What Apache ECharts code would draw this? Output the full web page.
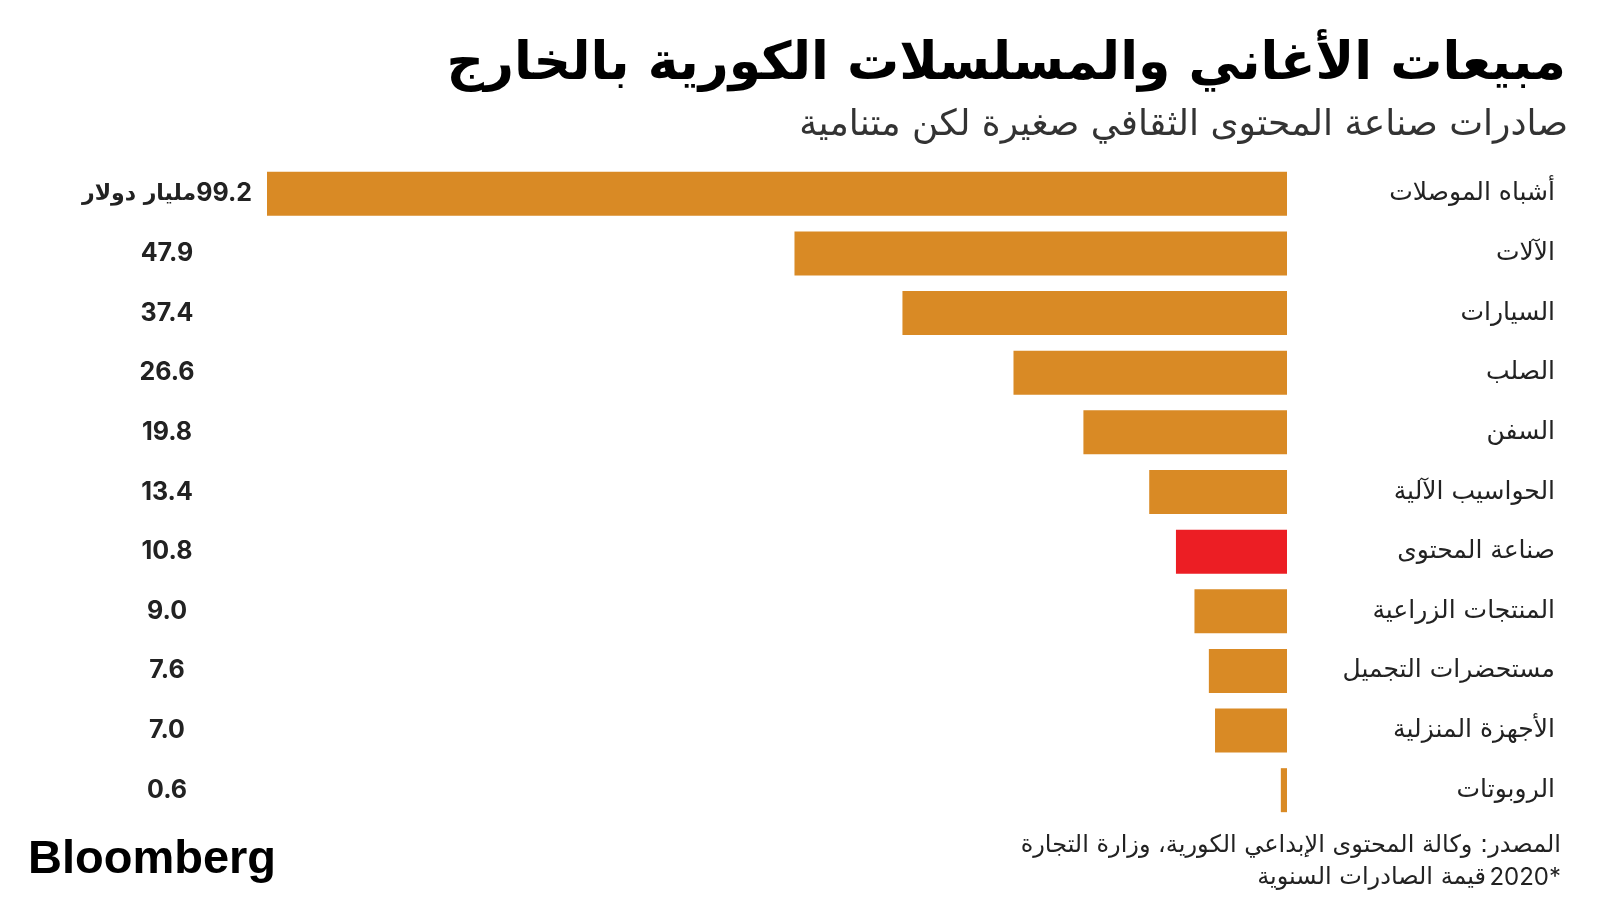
<!DOCTYPE html>
<html>
<head>
<meta charset="utf-8">
<script src="https://cdn.jsdelivr.net/npm/echarts@6/dist/echarts.min.js"></script>
<style>
html,body{margin:0;padding:0;background:#fff;}
#main{width:1600px;height:900px;}
</style>
</head>
<body>
<div id="main"></div>
<script>
const categories = ['أشباه الموصلات','الآلات','السيارات','الصلب','السفن','الحواسيب الآلية','صناعة المحتوى','المنتجات الزراعية','مستحضرات التجميل','الأجهزة المنزلية','الروبوتات'];
const values = [99.2, 47.9, 37.4, 26.6, 19.8, 13.4, 10.8, 9.0, 7.6, 7.0, 0.6];
const highlightCategory = 'صناعة المحتوى';
const unitLabel = 'مليار دولار';
const titleText = 'مبيعات الأغاني والمسلسلات الكورية بالخارج';
const subtitleText = 'صادرات صناعة المحتوى الثقافي صغيرة لكن متنامية';
const sourceText = 'المصدر: وكالة المحتوى الإبداعي الكورية، وزارة التجارة';
const noteText = 'قيمة الصادرات السنوية';
const noteYear = '2020';

const ORANGE = '#D98A25';
const RED = '#EC1E24';
const AR_FONT = '"DejaVu Sans", "Noto Sans", sans-serif';
const NUM_FONT = 'Inter, Roboto, "Liberation Sans", sans-serif';

const chart = echarts.init(document.getElementById('main'), null, {renderer:'canvas'});
const option = {
  backgroundColor: '#ffffff',
  animation: false,
  grid: {left: 267, right: 313, top: 164, bottom: 80, containLabel: false},
  xAxis: {
    type: 'value', inverse: true, min: 0, max: 99.2,
    show: false
  },
  yAxis: [{
    type: 'category', data: categories, inverse: true, position: 'right',
    axisLine: {show: false}, axisTick: {show: false}, splitLine: {show: false},
    axisLabel: {
      align: 'right', margin: 268, fontSize: 25, color: '#222',
      fontFamily: AR_FONT
    }
  }, {
    type: 'category', data: categories, inverse: true, position: 'left',
    axisLine: {show: false}, axisTick: {show: false}, splitLine: {show: false},
    axisLabel: {
      align: 'center', margin: 100, fontSize: 25, color: '#222',
      fontFamily: NUM_FONT, fontWeight: 'bold',
      formatter: function (v, i) {
        const n = values[i].toFixed(1);
        if (i === 0) return '{u|' + unitLabel + '}{n|' + n + '}';
        return n;
      },
      rich: {
        u: {fontSize: 22, fontWeight: 'bold', fontFamily: AR_FONT, color: '#222'},
        n: {fontSize: 25, fontWeight: 'bold', fontFamily: NUM_FONT, color: '#222'}
      }
    }
  }],
  series: [{
    type: 'bar', yAxisIndex: 0, barWidth: 44,
    data: values.map((v, i) => ({
      value: v,
      itemStyle: {color: categories[i] === highlightCategory ? RED : ORANGE}
    })),
    label: {show: false}
  }],
  graphic: [
    {type: 'text', right: 34, top: 39, style: {text: titleText, font: 'bold 52px ' + AR_FONT, fill: '#000', align: 'right'}},
    {type: 'text', right: 32, top: 108, style: {text: subtitleText, font: '36px ' + AR_FONT, fill: '#333', align: 'right'}},
    {type: 'text', left: 28, top: 837, style: {text: 'Bloomberg', font: 'bold 47px "Liberation Sans", Arial, sans-serif', fill: '#000'}},
    {type: 'text', right: 39, top: 834, style: {text: sourceText, font: '24px ' + AR_FONT, fill: '#222', align: 'right'}},
    {type: 'text', right: 39, top: 866, style: {
      text: '{a|' + noteText + '} {b|' + noteYear + '}{c|*}',
      align: 'right',
      rich: {
        a: {font: '24px ' + AR_FONT, fill: '#222'},
        b: {font: '24px ' + NUM_FONT, fill: '#222'},
        c: {font: '24px ' + NUM_FONT, fill: '#222', verticalAlign: 'top'}
      }
    }}
  ]
};
chart.setOption(option);
</script>
</body>
</html>
